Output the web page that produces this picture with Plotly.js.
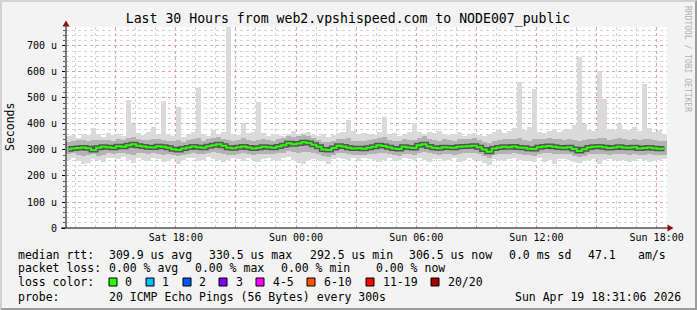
<!DOCTYPE html>
<html><head><meta charset="utf-8">
<script src="https://cdn.plot.ly/plotly-3.0.1.min.js"></script>
<style>
body{margin:0;background:#f3f3f3;}
#wrap{position:relative;width:697px;height:310px;overflow:hidden;}
#chart{width:697px;height:310px;}
#frame{position:absolute;left:0;top:0;width:697px;height:310px;box-sizing:border-box;border-left:2px solid #d2d2d2;border-top:2px solid #d2d2d2;border-right:2px solid #9c9c9c;border-bottom:2px solid #9c9c9c;pointer-events:none;}
</style></head><body>
<div id="wrap"><div id="chart"></div><div id="frame"></div></div>
<script>
// ---- data (15-minute bins, microseconds) ----
const startTime = '2026-04-18 12:31:06';
const endTime = '2026-04-19 18:31:06';
const binMs = 15 * 60 * 1000;

const medianRtt = [
303,306,308,310,307,300,309,312,311,309,
314,312,318,322,316,313,311,310,314,312,
309,303,300,306,310,313,311,309,314,318,
322,316,309,307,311,313,310,306,309,312,
311,309,313,318,326,322,325,330,327,320,
312,302,300,308,316,313,309,306,307,305,
309,312,318,315,311,306,304,312,310,308,
318,322,313,309,307,311,310,309,312,313,
314,316,311,302,293,306,310,312,311,313,
310,309,305,304,311,313,315,312,310,309,
311,304,296,303,310,312,313,311,308,310,
312,310,309,311,306,308,310,307,305,306];

const pingMin = [
262,270,258,248,250,266,262,255,270,268,
264,272,260,250,268,262,258,270,266,255,
258,265,247,262,270,268,257,262,272,265,
262,255,260,268,264,258,270,262,252,266,
268,262,258,270,272,262,250,248,260,265,
262,258,246,264,270,265,262,268,258,270,
266,262,254,260,268,256,262,270,266,260,
270,262,252,264,266,258,262,268,255,262,
268,262,258,250,244,266,262,258,266,270,
262,258,256,252,268,255,262,248,264,266,
262,255,250,258,262,266,248,260,266,262,
258,262,255,256,264,260,252,258,262,266];

const pingMax = [
352,358,348,362,356,385,360,350,366,358,
360,355,492,400,365,358,368,388,362,488,
360,355,465,350,362,370,538,360,355,377,
362,368,773,360,358,404,365,370,485,365,
352,360,358,355,362,372,360,366,370,358,
355,362,350,358,366,368,415,372,360,365,
362,358,368,427,360,366,352,360,370,404,
368,362,370,365,372,360,356,362,368,355,
360,366,358,352,362,370,378,365,372,385,
562,375,388,535,370,365,372,380,368,375,
382,396,657,400,378,372,604,496,380,375,
400,382,377,390,372,554,385,368,375,362];

const pingLowMid = [
284,288,282,278,280,286,276,282,288,285,
288,290,286,282,290,287,285,288,284,282,
284,280,276,282,286,290,285,284,288,292,
290,286,282,280,285,288,284,282,284,286,
286,284,288,290,296,294,290,292,294,290,
284,276,274,282,290,287,284,280,282,280,
284,286,290,288,285,280,278,286,284,282,
290,294,288,284,282,285,284,282,286,287,
288,290,284,276,270,280,284,286,285,287,
284,282,279,278,285,287,288,286,284,283,
285,278,272,277,284,286,285,284,282,284,
286,284,282,285,280,282,284,281,279,280];

const pingHighMid = [
332,336,338,340,335,338,337,338,340,336,
342,338,346,350,344,340,338,342,341,340,
336,334,338,332,338,342,345,336,342,346,
350,344,340,336,340,345,338,334,340,342,
338,336,342,346,354,350,352,358,354,346,
340,332,330,336,344,342,348,336,335,334,
338,342,346,350,340,336,334,342,338,340,
348,352,342,338,336,342,340,336,342,344,
344,346,340,332,325,336,340,342,342,344,
348,340,336,342,342,344,346,344,342,340,
344,340,334,338,342,344,348,346,340,342,
346,342,340,344,338,342,344,338,336,335];

const xTickVals = ['2026-04-18 15:00','2026-04-18 18:00','2026-04-18 21:00','2026-04-19 00:00','2026-04-19 03:00','2026-04-19 06:00','2026-04-19 09:00','2026-04-19 12:00','2026-04-19 15:00','2026-04-19 18:00'];
const xTickText = ['','Sat 18:00','','Sun 00:00','','Sun 06:00','','Sun 12:00','','Sun 18:00'];
const yTickVals = [0,100,200,300,400,500,600,700];
const yTickText = ['0','100 u','200 u','300 u','400 u','500 u','600 u','700 u'];

const lossLabels = ['0','1','2','3','4-5','6-10','11-19','20/20'];
const lossColors = ['#26ff00','#00b8ff','#0059ff','#7e00ff','#ff00ff','#ff5500','#ff0000','#a10000'];

// ---- build ----
const t0 = Date.UTC(2026,3,18,12,31,6);
const xs = medianRtt.map((_, i) => t0 + (i + 0.5) * binMs);

const L = 66, R = 667, T = 27, B = 228;
const px = x => (x - L) / (R - L);
const py = y => (B - y) / (B - T);

const mono = 'DejaVu Sans Mono';

const traces = [
  {type:'bar', x:xs, base:pingMin, y:pingMax.map((v,i)=>v-pingMin[i]), width:binMs,
   marker:{color:'#dadada', line:{width:0}}, hoverinfo:'skip'},
  {type:'bar', x:xs, base:pingLowMid, y:pingHighMid.map((v,i)=>v-pingLowMid[i]), width:binMs,
   marker:{color:'#b2b2b2', line:{width:0}}, hoverinfo:'skip'},
  {type:'scatter', mode:'lines', x:xs, y:medianRtt, line:{shape:'hvh', width:5, color:'rgba(60,60,60,0.8)'}, hoverinfo:'skip'},
  {type:'scatter', mode:'lines', x:xs, y:medianRtt, line:{shape:'hvh', width:2, color:'#26ff00'}, hoverinfo:'skip'}
];

const ann = [];
const shapes = [];
function txt(text, x, y, opts) {
  ann.push(Object.assign({text:text, xref:'paper', yref:'paper', x:px(x), y:py(y),
    xanchor:'left', yanchor:'middle', showarrow:false,
    font:{family:mono, size:11.5, color:'#000'}}, opts||{}));
}
// legend rows
txt('median rtt:',16,255); txt('309.9 us avg',107,255); txt('330.5 us max',207,255);
txt('292.5 us min',308,255); txt('306.5 us now',407,255); txt('0.0 ms sd',507,255);
txt('47.1',586,255); txt('am/s',636,255);
txt('packet loss:',16,268); txt('0.00 % avg',107,268); txt('0.00 % max',193,268);
txt('0.00 % min',279,268); txt('0.00 % now',374,268);
txt('loss color:',16,282);
const boxX = [109,146,183,219,256,307,366,431];
const labX = [123,160,197,234,271,322,381,446];
lossLabels.forEach((lab,i)=>{
  shapes.push({type:'rect', xref:'paper', yref:'paper', x0:px(boxX[i]), x1:px(boxX[i]+8), y0:py(286), y1:py(278),
    fillcolor:lossColors[i], line:{color:'#000', width:1}});
  txt(lab, labX[i], 282);
});
txt('probe:',16,297); txt('20 ICMP Echo Pings (56 Bytes) every 300s',107,297);
txt('Sun Apr 19 18:31:06 2026',513,297);
// axis title & watermark
txt('Seconds',10,127,{xanchor:'center', textangle:-90, font:{family:mono,size:11.5,color:'#000'}});
txt('RRDTOOL / TOBI OETIKER',688,59,{xanchor:'center', textangle:90, font:{family:mono,size:8,color:'#b0b0b0'}});

// axis arrows and extensions
shapes.push({type:'line', xref:'paper', yref:'paper', x0:px(66), x1:px(66), y0:py(228), y1:py(22), line:{color:'#000',width:1}});
shapes.push({type:'line', xref:'paper', yref:'paper', x0:px(61), x1:px(670), y0:py(228), y1:py(228), line:{color:'#000',width:1}});
shapes.push({type:'path', xref:'paper', yref:'paper',
  path:`M ${px(62.5)} ${py(26.5)} L ${px(69.5)} ${py(26.5)} L ${px(66)} ${py(20.5)} Z`, fillcolor:'#8b1010', line:{width:0}});
shapes.push({type:'path', xref:'paper', yref:'paper',
  path:`M ${px(667.5)} ${py(224.5)} L ${px(667.5)} ${py(231.5)} L ${px(673.5)} ${py(228)} Z`, fillcolor:'#8b1010', line:{width:0}});

const layout = {
  width:697, height:310,
  margin:{l:L, r:697-R, t:T, b:310-B, pad:0},
  paper_bgcolor:'#f3f3f3', plot_bgcolor:'#ffffff',
  showlegend:false, barmode:'overlay', bargap:0,
  title:{text:'Last 30 Hours from web2.vpshispeed.com to NODE007_public',
    xref:'container', yref:'container', x:348/697, y:1-18/310, xanchor:'center', yanchor:'middle',
    font:{family:mono, size:13.2, color:'#000'}},
  xaxis:{type:'date', range:[startTime,endTime], tickmode:'array', tickvals:xTickVals, ticktext:xTickText,
    showgrid:true, gridcolor:'rgba(235,120,120,0.55)', griddash:'dot', gridwidth:1,
    minor:{tickmode:'linear', tick0:'2026-04-18 13:00', dtick:3600000, showgrid:true, gridcolor:'#d4d4d4', griddash:'dot', gridwidth:1},
    showline:false, zeroline:false, ticks:'', ticklabelstandoff:2,
    tickfont:{family:mono, size:10, color:'#000'}, fixedrange:true},
  yaxis:{range:[0,773], tickmode:'array', tickvals:yTickVals, ticktext:yTickText,
    showgrid:true, gridcolor:'rgba(235,120,120,0.55)', griddash:'dot', gridwidth:1,
    minor:{tickmode:'linear', tick0:0, dtick:20, showgrid:true, gridcolor:'#d4d4d4', griddash:'dot', gridwidth:1, ticks:'outside', ticklen:2, tickcolor:'#555'},
    showline:false, zeroline:false, ticks:'outside', ticklen:3, tickcolor:'#000', ticklabelstandoff:3,
    tickfont:{family:mono, size:10, color:'#000'}, fixedrange:true},
  annotations:ann, shapes:shapes
};

Plotly.newPlot('chart', traces, layout, {displayModeBar:false, staticPlot:true});
</script>
</body></html>
